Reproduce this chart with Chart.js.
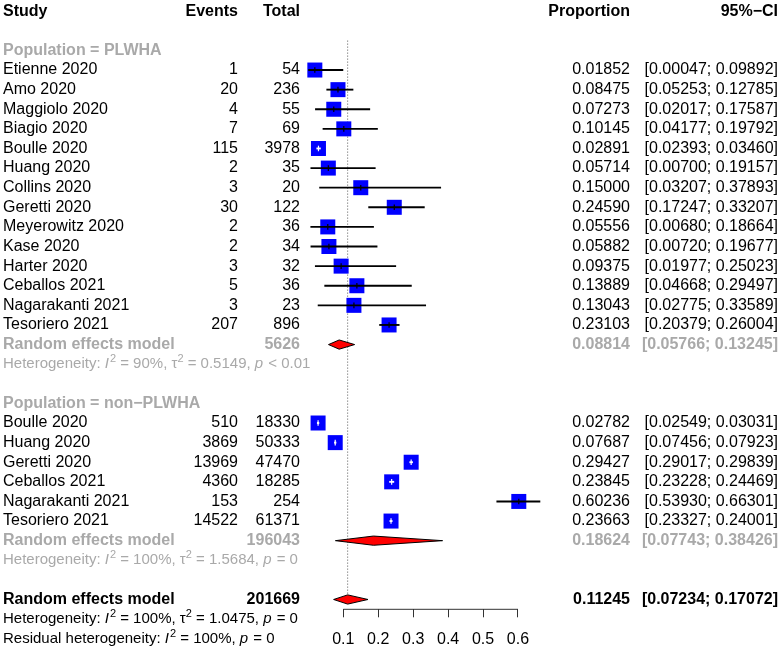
<!DOCTYPE html>
<html>
<head>
<meta charset="utf-8">
<title>Forest plot - proportion by population</title>
<script src="https://cdn.jsdelivr.net/npm/chart.js@4.4.1/dist/chart.umd.min.js"></script>
<style>
  html, body { margin: 0; padding: 0; background: #fff; }
  #forest { display: block; }
</style>
</head>
<body>
<canvas id="forest" width="779" height="653"></canvas>
<script>
// ---- data ----
const plwhaStudies = ['Etienne 2020', 'Amo 2020', 'Maggiolo 2020', 'Biagio 2020', 'Boulle 2020', 'Huang 2020',
  'Collins 2020', 'Geretti 2020', 'Meyerowitz 2020', 'Kase 2020', 'Harter 2020', 'Ceballos 2021',
  'Nagarakanti 2021', 'Tesoriero 2021'];
const plwhaEvents = [1, 20, 4, 7, 115, 2, 3, 30, 2, 2, 3, 5, 3, 207];
const plwhaTotal = [54, 236, 55, 69, 3978, 35, 20, 122, 36, 34, 32, 36, 23, 896];
const plwhaProp = [0.01852, 0.08475, 0.07273, 0.10145, 0.02891, 0.05714, 0.15000, 0.24590, 0.05556, 0.05882,
  0.09375, 0.13889, 0.13043, 0.23103];
const plwhaLower = [0.00047, 0.05253, 0.02017, 0.04177, 0.02393, 0.00700, 0.03207, 0.17247, 0.00680, 0.00720,
  0.01977, 0.04668, 0.02775, 0.20379];
const plwhaUpper = [0.09892, 0.12785, 0.17587, 0.19792, 0.03460, 0.19157, 0.37893, 0.33207, 0.18664, 0.19677,
  0.25023, 0.29497, 0.33589, 0.26004];

const nonStudies = ['Boulle 2020', 'Huang 2020', 'Geretti 2020', 'Ceballos 2021', 'Nagarakanti 2021', 'Tesoriero 2021'];
const nonEvents = [510, 3869, 13969, 4360, 153, 14522];
const nonTotal = [18330, 50333, 47470, 18285, 254, 61371];
const nonProp = [0.02782, 0.07687, 0.29427, 0.23845, 0.60236, 0.23663];
const nonLower = [0.02549, 0.07456, 0.29017, 0.23228, 0.53930, 0.23327];
const nonUpper = [0.03031, 0.07923, 0.29839, 0.24469, 0.66301, 0.24001];

// pooled: PLWHA, non-PLWHA, overall
const pooledEst = [0.08814, 0.18624, 0.11245];
const pooledLower = [0.05766, 0.07743, 0.07234];
const pooledUpper = [0.13245, 0.38426, 0.17072];
const pooledTotal = [5626, 196043, 201669];

const groupLabels = ['Population = PLWHA', 'Population = non\u2212PLWHA'];
const hetPlwha = [['Heterogeneity: '], ['I', 'i'], ['2', 's'], [' = 90%, '], ['\u03c4'], ['2', 's'], [' = 0.5149, '], ['p', 'i'], [' < 0.01']];
const hetNon = [['Heterogeneity: '], ['I', 'i'], ['2', 's'], [' = 100%, '], ['\u03c4'], ['2', 's'], [' = 1.5684, '], ['p', 'i'], [' = 0']];
const hetAll = [['Heterogeneity: '], ['I', 'i'], ['2', 's'], [' = 100%, '], ['\u03c4'], ['2', 's'], [' = 1.0475, '], ['p', 'i'], [' = 0']];
const hetResid = [['Residual heterogeneity: '], ['I', 'i'], ['2', 's'], [' = 100%, '], ['p', 'i'], [' = 0']];

const tickValues = [0.1, 0.2, 0.3, 0.4, 0.5, 0.6];
const tickLabels = ['0.1', '0.2', '0.3', '0.4', '0.5', '0.6'];

// ---- row layout (one unit = one text line) ----
const rowGroup1 = 2;
const rowsPlwha = plwhaStudies.map((_, i) => rowGroup1 + 1 + i);
const rowPooled1 = rowGroup1 + 1 + plwhaStudies.length;
const rowGroup2 = rowPooled1 + 3;
const rowsNon = nonStudies.map((_, i) => rowGroup2 + 1 + i);
const rowPooled2 = rowGroup2 + 1 + nonStudies.length;
const rowOverall = rowPooled2 + 3;
const pooledRows = [rowPooled1, rowPooled2, rowOverall];
const AXIS_ROW = rowOverall + 0.5;

const allProp = plwhaProp.concat(nonProp);
const allLower = plwhaLower.concat(nonLower);
const allUpper = plwhaUpper.concat(nonUpper);
const allRows = rowsPlwha.concat(rowsNon);

const FAMILY = '"Liberation Sans", Arial, Helvetica, sans-serif';
const GRAY = '#a9a9a9';
const SQUARE = 15;          // px side of study squares
const DIAMOND_H = 0.235;    // half height of diamonds, in rows

Chart.defaults.font.family = FAMILY;
Chart.defaults.font.size = 16;
Chart.defaults.color = '#000';

// white whisker when the CI fits inside the square
function whiskerColor(ctx) {
  const x = ctx.chart.scales.x;
  const i = ctx.dataIndex;
  const w = x.getPixelForValue(allUpper[i]) - x.getPixelForValue(allLower[i]);
  return w < SQUARE ? '#fff' : '#000';
}

function drawRich(ctx, segs, x, y, color) {
  ctx.textAlign = 'left';
  ctx.fillStyle = color;
  let cx = x;
  segs.forEach(([s, k]) => {
    const size = k === 's' ? 11 : 15;
    ctx.font = (k === 'i' ? 'italic ' : '') + size + 'px ' + FAMILY;
    ctx.fillText(s, cx, k === 's' ? y - 5 : y);
    cx += ctx.measureText(s).width + (k === 'i' ? 1 : 0);
  });
}

const tablePlugin = {
  id: 'forestTable',
  afterDraw(chart) {
    const ctx = chart.ctx;
    const y = chart.scales.y;
    const colStudy = 3, colEvents = 238, colTotal = 300, colProp = 630, colCi = 778;
    const bold = 'bold 16px ' + FAMILY, norm = '16px ' + FAMILY;
    const put = (s, x, row, align, font, color) => {
      ctx.font = font;
      ctx.textAlign = align;
      ctx.fillStyle = color;
      ctx.fillText(s, x, y.getPixelForValue(row));
    };
    const ci = (lo, hi) => '[' + lo.toFixed(5) + '; ' + hi.toFixed(5) + ']';

    ctx.save();
    ctx.textBaseline = 'middle';

    // header
    put('Study', colStudy, 0, 'left', bold, '#000');
    put('Events', colEvents, 0, 'right', bold, '#000');
    put('Total', colTotal, 0, 'right', bold, '#000');
    put('Proportion', colProp, 0, 'right', bold, '#000');
    put('95%\u2212CI', colCi, 0, 'right', bold, '#000');

    const groups = [
      [plwhaStudies, plwhaEvents, plwhaTotal, plwhaProp, plwhaLower, plwhaUpper, rowsPlwha, hetPlwha],
      [nonStudies, nonEvents, nonTotal, nonProp, nonLower, nonUpper, rowsNon, hetNon]
    ];
    groups.forEach(([names, ev, tot, p, lo, hi, rows, het], g) => {
      put(groupLabels[g], colStudy, rows[0] - 1, 'left', bold, GRAY);
      names.forEach((n, i) => {
        put(n, colStudy, rows[i], 'left', norm, '#000');
        put(String(ev[i]), colEvents, rows[i], 'right', norm, '#000');
        put(String(tot[i]), colTotal, rows[i], 'right', norm, '#000');
        put(p[i].toFixed(5), colProp, rows[i], 'right', norm, '#000');
        put(ci(lo[i], hi[i]), colCi, rows[i], 'right', norm, '#000');
      });
      const pr = pooledRows[g];
      put('Random effects model', colStudy, pr, 'left', bold, GRAY);
      put(String(pooledTotal[g]), colTotal, pr, 'right', bold, GRAY);
      put(pooledEst[g].toFixed(5), colProp, pr, 'right', bold, GRAY);
      put(ci(pooledLower[g], pooledUpper[g]), colCi, pr, 'right', bold, GRAY);
      drawRich(ctx, het, colStudy, y.getPixelForValue(pr + 1), GRAY);
    });

    put('Random effects model', colStudy, rowOverall, 'left', bold, '#000');
    put(String(pooledTotal[2]), colTotal, rowOverall, 'right', bold, '#000');
    put(pooledEst[2].toFixed(5), colProp, rowOverall, 'right', bold, '#000');
    put(ci(pooledLower[2], pooledUpper[2]), colCi, rowOverall, 'right', bold, '#000');
    drawRich(ctx, hetAll, colStudy, y.getPixelForValue(rowOverall + 1), '#000');
    drawRich(ctx, hetResid, colStudy, y.getPixelForValue(rowOverall + 2), '#000');
    ctx.restore();
  }
};

const diamondSets = pooledEst.map((est, i) => ({
  type: 'line',
  data: [
    { x: pooledLower[i], y: pooledRows[i] },
    { x: est, y: pooledRows[i] - DIAMOND_H },
    { x: pooledUpper[i], y: pooledRows[i] },
    { x: est, y: pooledRows[i] + DIAMOND_H },
    { x: pooledLower[i], y: pooledRows[i] }
  ],
  fill: 'shape',
  backgroundColor: '#ff0000',
  borderColor: '#000',
  borderWidth: 1,
  pointRadius: 0,
  tension: 0,
  clip: false,
  order: 3
}));

new Chart(document.getElementById('forest'), {
  type: 'scatter',
  data: {
    datasets: [
      {
        // CI whiskers
        type: 'bar',
        indexAxis: 'y',
        data: allRows.map((r, i) => ({ x: [allLower[i], allUpper[i]], y: r })),
        backgroundColor: whiskerColor,
        barThickness: 1.2,
        borderWidth: 0,
        clip: false,
        order: 1
      },
      {
        // vertical tick at the estimate
        data: allRows.map((r, i) => ({ x: allProp[i], y: r })),
        pointStyle: 'line',
        rotation: 90,
        radius: 2.8,
        borderWidth: 1.2,
        borderColor: whiskerColor,
        clip: false,
        order: 0
      },
      {
        // study squares
        data: allRows.map((r, i) => ({ x: allProp[i], y: r })),
        pointStyle: 'rect',
        radius: SQUARE / Math.SQRT2,
        backgroundColor: '#0000ff',
        borderWidth: 0,
        clip: false,
        order: 2
      },
      ...diamondSets,
      {
        // reference line at the overall estimate
        type: 'line',
        data: [{ x: pooledEst[2], y: 1.5 }, { x: pooledEst[2], y: rowOverall }],
        borderColor: '#555',
        borderWidth: 1,
        borderDash: [1, 2],
        pointRadius: 0,
        clip: false,
        order: 4
      },
      {
        // x axis line, only across the tick range
        type: 'line',
        data: [{ x: tickValues[0], y: AXIS_ROW }, { x: tickValues[tickValues.length - 1], y: AXIS_ROW }],
        borderColor: '#333',
        borderWidth: 1,
        pointRadius: 0,
        clip: false,
        order: 5
      }
    ]
  },
  options: {
    responsive: false,
    animation: false,
    events: [],
    layout: { autoPadding: false, padding: { left: 290.9, right: 226.1, top: 1.4, bottom: 3.7 } },
    plugins: { legend: { display: false }, tooltip: { enabled: false } },
    scales: {
      x: {
        type: 'linear',
        min: -0.05,
        max: 0.7,
        offset: false,
        border: { display: false },
        grid: { drawOnChartArea: false, drawTicks: true, tickLength: 8, color: '#333', lineWidth: 1 },
        afterBuildTicks: (s) => { s.ticks = tickValues.map(v => ({ value: v })); },
        afterFit: (s) => { s.height = 40; },
        ticks: {
          padding: 13,
          maxRotation: 0,
          autoSkip: false,
          color: '#000',
          font: { size: 16 },
          callback: (v, i) => tickLabels[i]
        }
      },
      y: {
        type: 'linear',
        display: false,
        reverse: true,
        min: -0.5,
        max: AXIS_ROW,
        offset: false,
        ticks: { display: false },
        grid: { display: false }
      }
    }
  },
  plugins: [tablePlugin]
});
</script>
</body>
</html>
